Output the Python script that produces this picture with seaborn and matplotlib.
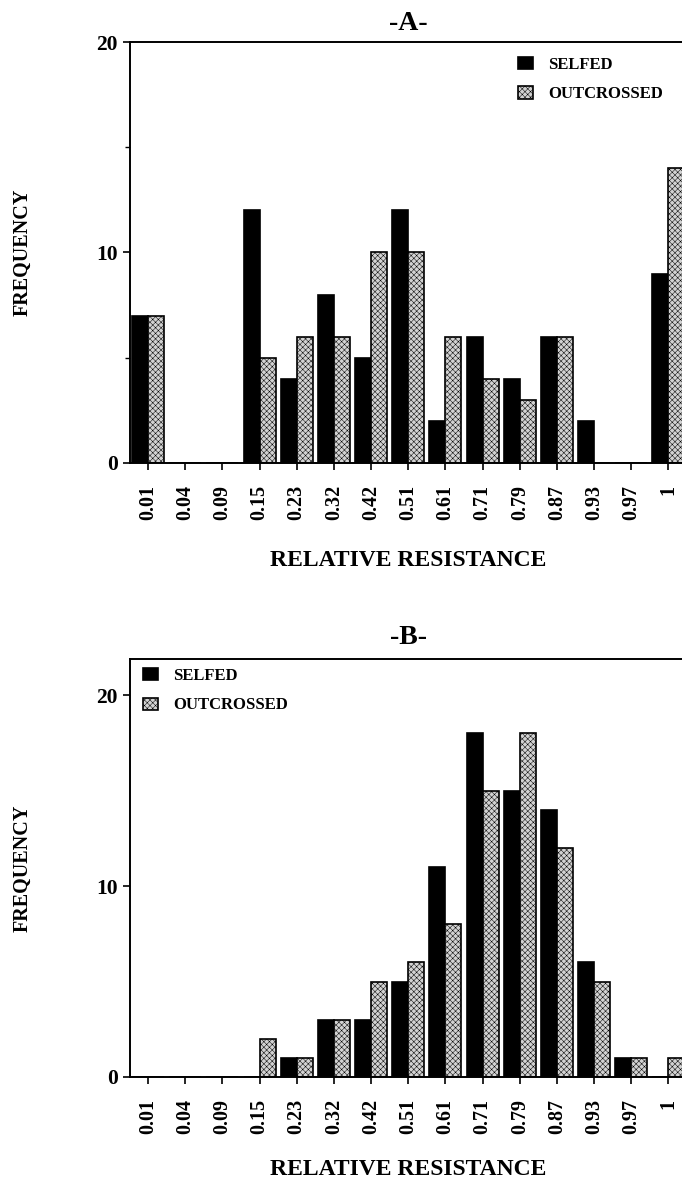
import pandas as pd
import seaborn as sns
import matplotlib.pyplot as plt
from matplotlib.ticker import FixedLocator

resistance = ['0.01', '0.04', '0.09', '0.15', '0.23', '0.32', '0.42', '0.51',
              '0.61', '0.71', '0.79', '0.87', '0.93', '0.97', '1']
groups = ['SELFED', 'OUTCROSSED']

selfed_a = [7, 0, 0, 12, 4, 8, 5, 12, 2, 6, 4, 6, 2, 0, 9]
outcrossed_a = [7, 0, 0, 5, 6, 6, 10, 10, 6, 4, 3, 6, 0, 0, 14]
selfed_b = [0, 0, 0, 0, 1, 3, 3, 5, 11, 18, 15, 14, 6, 1, 0]
outcrossed_b = [0, 0, 0, 2, 1, 3, 5, 6, 8, 15, 18, 12, 5, 1, 1]

sns.set_style('ticks')
plt.rcParams['font.family'] = ['Liberation Serif', 'DejaVu Serif']
plt.rcParams['font.weight'] = 'bold'
plt.rcParams['text.color'] = 'black'
plt.rcParams['axes.labelcolor'] = 'black'
plt.rcParams['xtick.color'] = 'black'
plt.rcParams['ytick.color'] = 'black'
plt.rcParams['hatch.linewidth'] = 0.35
plt.rcParams['hatch.color'] = '#6e6e6e'

W, H = 682, 1185
fig = plt.figure(figsize=(W / 100, H / 100), dpi=100)


def px_axes(left, top, right, bottom):
    return fig.add_axes([left / W, 1 - bottom / H, (right - left) / W, (bottom - top) / H])


def panel(ax, selfed, outcrossed, title, ymax, minor, leg_anchor, xlab_y, title_pad):
    df = pd.DataFrame({
        'resistance': resistance * 2,
        'freq': selfed + outcrossed,
        'group': [groups[0]] * len(resistance) + [groups[1]] * len(resistance),
    })
    sns.barplot(data=df, x='resistance', y='freq', hue='group', order=resistance,
                hue_order=groups, palette={'SELFED': 'black', 'OUTCROSSED': '#d2d2d2'},
                width=0.86, gap=0, edgecolor='black', linewidth=1.2, saturation=1,
                errorbar=None, legend=False, ax=ax)
    for p in ax.containers[1]:
        p.set_hatch('xxxxxx')

    ax.set_xlim(-0.485, 14.485)
    ax.set_ylim(0, ymax)
    ax.yaxis.set_major_locator(FixedLocator([0, 10, 20]))
    if minor:
        ax.yaxis.set_minor_locator(FixedLocator([5, 15]))
    for s in ax.spines.values():
        s.set_visible(True)
        s.set_linewidth(1.4)
        s.set_color('black')
    ax.tick_params(axis='both', which='major', direction='out', length=5, width=1.2)
    ax.tick_params(axis='y', which='minor', direction='out', length=3.5, width=1.0)
    ax.tick_params(axis='x', labelrotation=90, labelsize=14.5, pad=11)
    ax.tick_params(axis='y', labelsize=15.5, pad=4)
    for lab in ax.get_xticklabels() + ax.get_yticklabels():
        lab.set_fontweight('bold')

    ax.set_title(title, fontsize=20, fontweight='bold', pad=title_pad)
    ax.set_xlabel('RELATIVE RESISTANCE', fontsize=17, fontweight='bold')
    ax.set_ylabel('FREQUENCY', fontsize=14.5, fontweight='bold')
    ax.xaxis.set_label_coords(0.5, xlab_y)
    ax.yaxis.set_label_coords(-0.175, 0.5)

    handles = [ax.containers[0][0], ax.containers[1][0]]
    ax.legend(handles, groups, loc='upper left', bbox_to_anchor=leg_anchor,
              frameon=False, borderpad=0, handlelength=0.85, handleheight=0.75,
              handletextpad=0.95, labelspacing=0.82,
              prop={'size': 12, 'weight': 'bold'})


ax_a = px_axes(130, 42, 686.5, 463)
panel(ax_a, selfed_a, outcrossed_a, '-A-', 20, True, (0.683, 0.985), -0.206, 8.6)

ax_b = px_axes(130, 659, 686.5, 1077)
panel(ax_b, selfed_b, outcrossed_b, '-B-', 21.9, False, (0.009, 0.999), -0.196, 10.8)

fig.savefig('out.png', dpi=100)
